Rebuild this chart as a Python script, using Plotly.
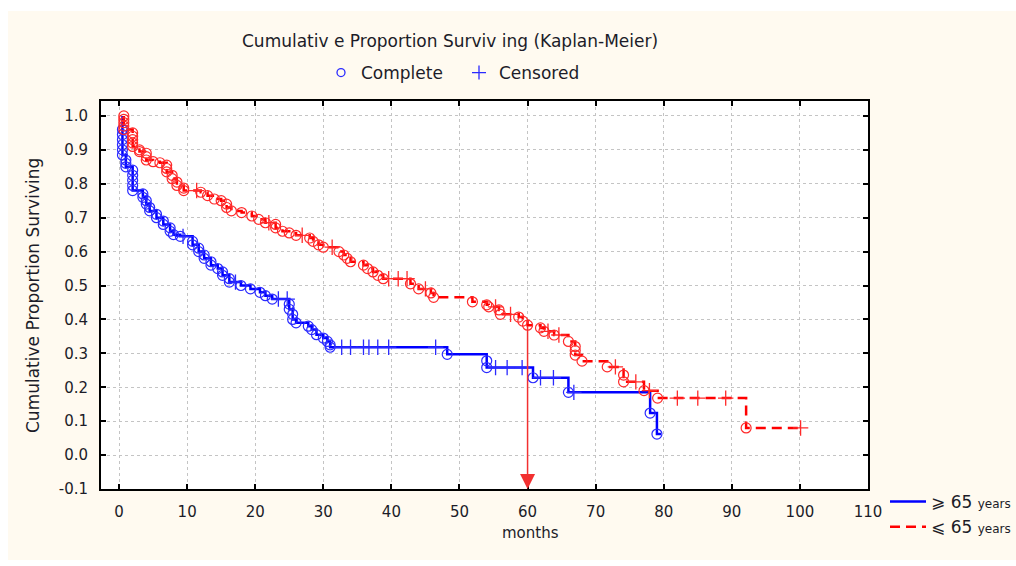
import plotly.graph_objects as go

# ---------------- data ----------------
x_ticks = [0, 10, 20, 30, 40, 50, 60, 70, 80, 90, 100, 110]
y_ticks = [-0.1, 0.0, 0.1, 0.2, 0.3, 0.4, 0.5, 0.6, 0.7, 0.8, 0.9, 1.0]
y_tick_labels = ["-0.1", "0.0", "0.1", "0.2", "0.3", "0.4", "0.5", "0.6", "0.7", "0.8", "0.9", "1.0"]

# >= 65 years (blue, solid)
old_event_t = [0.5, 0.5, 0.5, 0.5, 0.5, 0.5, 1.0, 1.0, 1.0, 2.0, 2.0, 2.0, 2.0, 2.0,
               3.5, 3.5, 4.0, 4.0, 4.5, 4.5, 5.5, 5.5, 6.5, 6.5, 7.5, 7.5, 8.0, 9.0,
               10.8, 10.8, 11.7, 11.7, 12.5, 12.5, 13.5, 13.5, 14.5, 15.2, 15.2, 16.2, 16.2,
               17.9, 19.3, 20.7, 21.5, 22.5, 25.0, 25.0, 25.5, 25.5, 26.0,
               27.8, 28.3, 29.0, 30.0, 30.6, 31.0, 31.0, 48.2, 54.0, 54.0, 60.8, 66.0,
               78.0, 79.0]
old_event_s = [0.96, 0.945, 0.93, 0.915, 0.90, 0.885, 0.87, 0.86, 0.85, 0.84, 0.825, 0.81, 0.795, 0.78,
               0.77, 0.76, 0.75, 0.74, 0.73, 0.72, 0.71, 0.70, 0.69, 0.68, 0.67, 0.66, 0.65, 0.645,
               0.63, 0.62, 0.61, 0.60, 0.59, 0.58, 0.57, 0.56, 0.55, 0.54, 0.53, 0.52, 0.51,
               0.50, 0.49, 0.48, 0.47, 0.46, 0.445, 0.43, 0.415, 0.40, 0.39,
               0.38, 0.37, 0.355, 0.345, 0.335, 0.325, 0.318, 0.297, 0.278, 0.258, 0.228, 0.185,
               0.124, 0.062]
old_cens_t = [9.4, 17.1, 23.4, 24.7, 32.7, 34.0, 35.9, 36.7, 38.0, 39.6, 46.5,
              55.3, 57.0, 59.2, 61.9, 63.8, 66.8]
old_cens_s = [0.645, 0.51, 0.46, 0.46, 0.318, 0.318, 0.318, 0.318, 0.318, 0.318, 0.318,
              0.258, 0.258, 0.258, 0.228, 0.228, 0.185]
old_end_t = 79.6

# < 65 years (red, dashed)
young_event_t = [0.7, 0.7, 0.7, 0.7, 0.7, 2.0, 2.0, 2.0, 2.0, 2.0, 3.0, 3.0, 4.0, 4.0, 4.0,
                 5.0, 6.0, 7.0, 7.0, 7.0, 7.8, 7.8, 8.5, 8.5, 9.5, 9.5,
                 12.0, 13.0, 14.0, 15.0, 15.8, 15.8, 16.5, 18.0, 19.5, 20.5, 21.5,
                 23.0, 23.0, 24.0, 25.0, 26.0, 28.0, 28.5, 29.3, 30.0,
                 32.3, 33.0, 33.5, 34.0, 35.9, 36.5, 37.3, 38.0, 38.8,
                 42.8, 44.0, 45.8, 46.2, 51.9, 54.0, 54.3, 55.8, 56.0,
                 58.7, 59.3, 60.0, 61.9, 62.4, 63.9, 66.0, 67.0, 67.0, 67.0, 68.0,
                 71.7, 74.1, 74.1, 77.1, 79.1, 92.1]
young_event_s = [1.0, 0.99, 0.98, 0.97, 0.96, 0.95, 0.94, 0.93, 0.92, 0.91, 0.90, 0.895, 0.89, 0.88, 0.87,
                 0.865, 0.862, 0.855, 0.845, 0.835, 0.825, 0.815, 0.805, 0.795, 0.787, 0.78,
                 0.775, 0.765, 0.755, 0.75, 0.74, 0.73, 0.72, 0.715, 0.705, 0.695, 0.685,
                 0.68, 0.67, 0.66, 0.655, 0.648, 0.64, 0.63, 0.62, 0.613,
                 0.60, 0.59, 0.58, 0.57, 0.56, 0.55, 0.54, 0.53, 0.52,
                 0.505, 0.49, 0.478, 0.465, 0.452, 0.443, 0.437, 0.428, 0.415,
                 0.407, 0.395, 0.383, 0.375, 0.365, 0.354, 0.335, 0.32, 0.308, 0.295, 0.277,
                 0.26, 0.236, 0.216, 0.19, 0.168, 0.08]
young_cens_t = [11.4, 22.0, 26.9, 31.3, 39.6, 41.0, 42.3, 45.0, 55.3, 57.5, 63.0, 64.6,
                72.9, 75.9, 77.9, 82.0, 85.0, 89.1, 100.1]
young_cens_s = [0.78, 0.685, 0.648, 0.613, 0.52, 0.52, 0.52, 0.49, 0.437, 0.415, 0.365, 0.354,
                0.26, 0.216, 0.19, 0.168, 0.168, 0.168, 0.08]
young_end_t = 100.1

start_s = 1.0
marker_t = 60
marker_s = 0.385

BLUE = "#0000ff"
BLUE_M = "#2a2aff"
RED = "#ff0000"
RED_M = "#ff2a2a"
CREAM = "#fffaf0"
FONT = "DejaVu Sans, Liberation Sans, Arial"
TXT = "#1c1c28"

# plot area in pixels
L, R, T, B = 101, 868, 101, 489
W, H = 1016, 566
PW, PH = R - L, B - T


def px(xp):
    return (xp - L) / PW


def py(yp):
    return (B - yp) / PH


fig = go.Figure()

# step lines
fig.add_trace(go.Scatter(
    x=[old_event_t[0]] + old_event_t + [old_end_t],
    y=[start_s] + old_event_s + [old_event_s[-1]],
    mode="lines", line=dict(color=BLUE, width=2.5, shape="hv"),
    name="⩾ 65 <span style='font-size:12px'>years</span>", legend="legend",
    hoverinfo="skip"))
fig.add_trace(go.Scatter(
    x=[young_event_t[0]] + young_event_t + [young_end_t],
    y=[start_s] + young_event_s + [young_event_s[-1]],
    mode="lines", line=dict(color=RED, width=2.5, shape="hv", dash="10px,6px"),
    name="⩽ 65 <span style='font-size:12px'>years</span>", legend="legend",
    hoverinfo="skip"))

# event markers
fig.add_trace(go.Scatter(x=old_event_t, y=old_event_s, mode="markers", showlegend=False,
                         marker=dict(symbol="circle-open", size=10, color=BLUE_M,
                                     line=dict(width=1.2, color=BLUE_M))))
fig.add_trace(go.Scatter(x=young_event_t, y=young_event_s, mode="markers", showlegend=False,
                         marker=dict(symbol="circle-open", size=10, color=RED_M,
                                     line=dict(width=1.2, color=RED_M))))
# censored markers
fig.add_trace(go.Scatter(x=old_cens_t, y=old_cens_s, mode="markers", showlegend=False,
                         marker=dict(symbol="cross-thin", size=11, color=BLUE_M,
                                     line=dict(width=1.3, color=BLUE_M))))
fig.add_trace(go.Scatter(x=young_cens_t, y=young_cens_s, mode="markers", showlegend=False,
                         marker=dict(symbol="cross-thin", size=11, color=RED_M,
                                     line=dict(width=1.3, color=RED_M))))

# legend entries for marker types
fig.add_trace(go.Scatter(x=[None], y=[None], mode="markers", name="Complete", legend="legend2",
                         marker=dict(symbol="circle-open", size=8, color=BLUE_M,
                                     line=dict(width=1.3, color=BLUE_M))))
fig.add_trace(go.Scatter(x=[None], y=[None], mode="markers", name="Censored", legend="legend2",
                         marker=dict(symbol="cross-thin", size=10, color=BLUE_M,
                                     line=dict(width=1.3, color=BLUE_M))))

axis_common = dict(
    showline=True, linecolor="black", linewidth=2, mirror="allticks",
    ticks="inside", ticklen=5, tickwidth=2, tickcolor="black",
    showgrid=True, gridcolor="#c4c4c4", gridwidth=1, griddash="dot",
    zeroline=False, tickfont=dict(family=FONT, size=15, color=TXT),
    ticklabelstandoff=8,
)

fig.update_xaxes(range=[-2.65, 110], tickvals=x_ticks, **axis_common)
fig.update_yaxes(range=[-0.1, 1.044], tickvals=y_ticks, ticktext=y_tick_labels, **axis_common)

fig.update_layout(
    width=W, height=H,
    margin=dict(l=L, r=W - R, t=T, b=H - B, autoexpand=False),
    paper_bgcolor="white", plot_bgcolor="white",
    showlegend=True,
    legend=dict(x=px(885), y=py(484), xanchor="left", yanchor="top", itemwidth=36,
                bgcolor="rgba(0,0,0,0)", font=dict(family=FONT, size=17, color=TXT),
                tracegroupgap=0),
    legend2=dict(orientation="h", x=px(321), y=py(55), xanchor="left", yanchor="top",
                 entrywidth=93, entrywidthmode="pixels",
                 bgcolor="rgba(0,0,0,0)", font=dict(family=FONT, size=17, color=TXT)),
    shapes=[
        dict(type="rect", xref="paper", yref="paper", x0=px(8), x1=px(1020), y0=py(560), y1=py(11),
             fillcolor=CREAM, line=dict(width=0), layer="below"),
        dict(type="rect", xref="paper", yref="paper", x0=0, x1=1, y0=0, y1=1,
             fillcolor="white", line=dict(width=0), layer="below"),
    ],
    annotations=[
        dict(text="Cumulativ e Proportion Surviv ing (Kaplan-Meier)", xref="paper", yref="paper",
             x=px(450), y=py(41), xanchor="center", yanchor="middle", showarrow=False,
             font=dict(family=FONT, size=17, color=TXT)),
        dict(text="Cumulative Proportion Surviving", xref="paper", yref="paper",
             x=px(33), y=py(296), xanchor="center", yanchor="middle", showarrow=False,
             textangle=-90, font=dict(family=FONT, size=17, color=TXT)),
        dict(text="months", xref="paper", yref="paper",
             x=px(530), y=py(533), xanchor="center", yanchor="middle", showarrow=False,
             font=dict(family=FONT, size=15, color=TXT)),
        dict(text="", x=marker_t, y=-0.1, ax=marker_t, ay=marker_s, xref="x", yref="y",
             axref="x", ayref="y", showarrow=True, arrowhead=2, arrowsize=2.0,
             arrowwidth=1.5, arrowcolor="#f23030", standoff=0),
    ],
)

fig.write_html("out.html")
